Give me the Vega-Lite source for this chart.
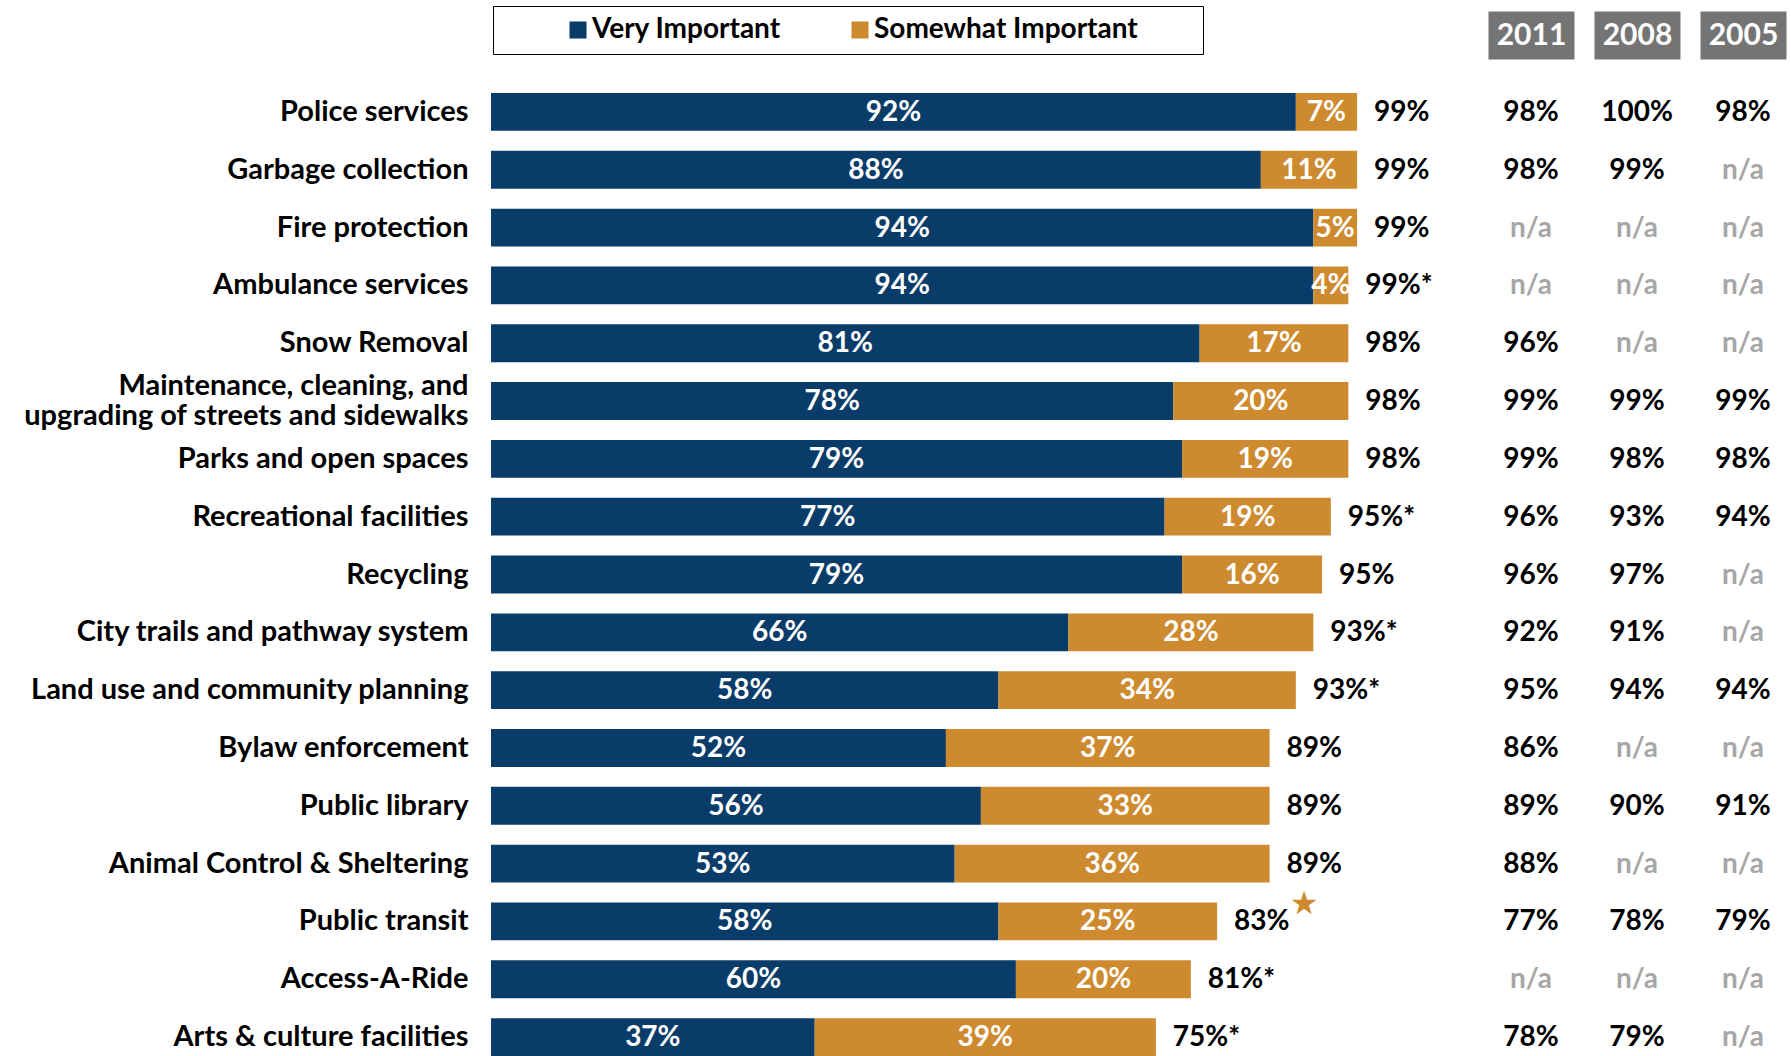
{
  "$schema": "https://vega.github.io/schema/vega-lite/v6.json",
  "autosize": {"type": "none"},
  "padding": {"left": 491, "top": 93, "right": 0, "bottom": 0},
  "width": 1300,
  "height": 963,
  "background": "white",
  "config": {
    "view": {"stroke": null},
    "font": "Lato",
    "text": {"font": "Lato", "fontWeight": "bold", "fontSize": 28}
  },
  "data": {
    "values": [
      {"cat": "Police services", "Very Important": 0.92, "Somewhat Important": 0.07, "total": "99%", "2011": 0.98, "2008": 1.00, "2005": 0.98, "star": false},
      {"cat": "Garbage collection", "Very Important": 0.88, "Somewhat Important": 0.11, "total": "99%", "2011": 0.98, "2008": 0.99, "2005": null, "star": false},
      {"cat": "Fire protection", "Very Important": 0.94, "Somewhat Important": 0.05, "total": "99%", "2011": null, "2008": null, "2005": null, "star": false},
      {"cat": "Ambulance services", "Very Important": 0.94, "Somewhat Important": 0.04, "total": "99%*", "2011": null, "2008": null, "2005": null, "star": false},
      {"cat": "Snow Removal", "Very Important": 0.81, "Somewhat Important": 0.17, "total": "98%", "2011": 0.96, "2008": null, "2005": null, "star": false},
      {"cat": "Maintenance, cleaning, and upgrading of streets and sidewalks", "Very Important": 0.78, "Somewhat Important": 0.20, "total": "98%", "2011": 0.99, "2008": 0.99, "2005": 0.99, "star": false},
      {"cat": "Parks and open spaces", "Very Important": 0.79, "Somewhat Important": 0.19, "total": "98%", "2011": 0.99, "2008": 0.98, "2005": 0.98, "star": false},
      {"cat": "Recreational facilities", "Very Important": 0.77, "Somewhat Important": 0.19, "total": "95%*", "2011": 0.96, "2008": 0.93, "2005": 0.94, "star": false},
      {"cat": "Recycling", "Very Important": 0.79, "Somewhat Important": 0.16, "total": "95%", "2011": 0.96, "2008": 0.97, "2005": null, "star": false},
      {"cat": "City trails and pathway system", "Very Important": 0.66, "Somewhat Important": 0.28, "total": "93%*", "2011": 0.92, "2008": 0.91, "2005": null, "star": false},
      {"cat": "Land use and community planning", "Very Important": 0.58, "Somewhat Important": 0.34, "total": "93%*", "2011": 0.95, "2008": 0.94, "2005": 0.94, "star": false},
      {"cat": "Bylaw enforcement", "Very Important": 0.52, "Somewhat Important": 0.37, "total": "89%", "2011": 0.86, "2008": null, "2005": null, "star": false},
      {"cat": "Public library", "Very Important": 0.56, "Somewhat Important": 0.33, "total": "89%", "2011": 0.89, "2008": 0.90, "2005": 0.91, "star": false},
      {"cat": "Animal Control & Sheltering", "Very Important": 0.53, "Somewhat Important": 0.36, "total": "89%", "2011": 0.88, "2008": null, "2005": null, "star": false},
      {"cat": "Public transit", "Very Important": 0.58, "Somewhat Important": 0.25, "total": "83%", "2011": 0.77, "2008": 0.78, "2005": 0.79, "star": true},
      {"cat": "Access-A-Ride", "Very Important": 0.60, "Somewhat Important": 0.20, "total": "81%*", "2011": null, "2008": null, "2005": null, "star": false},
      {"cat": "Arts & culture facilities", "Very Important": 0.37, "Somewhat Important": 0.39, "total": "75%*", "2011": 0.78, "2008": 0.79, "2005": null, "star": false}
    ]
  },
  "encoding": {
    "y": {
      "field": "cat",
      "type": "nominal",
      "sort": null,
      "scale": {
        "domain": ["Police services", "Garbage collection", "Fire protection", "Ambulance services", "Snow Removal", "Maintenance, cleaning, and upgrading of streets and sidewalks", "Parks and open spaces", "Recreational facilities", "Recycling", "City trails and pathway system", "Land use and community planning", "Bylaw enforcement", "Public library", "Animal Control & Sheltering", "Public transit", "Access-A-Ride", "Arts & culture facilities"],
        "paddingInner": 0.345,
        "paddingOuter": 0
      },
      "axis": {
        "title": null,
        "domain": false,
        "ticks": false,
        "labelFont": "Lato",
        "labelFontSize": 29,
        "labelFontWeight": "bold",
        "labelColor": "black",
        "labelPadding": 23,
        "labelLimit": 600,
        "labelLineHeight": 30,
        "labelOffset": {"condition": {"test": "datum.value == 'Maintenance, cleaning, and upgrading of streets and sidewalks'", "value": -15}, "value": 0},
        "labelExpr": "datum.value == 'Maintenance, cleaning, and upgrading of streets and sidewalks' ? ['Maintenance, cleaning, and', 'upgrading of streets and sidewalks'] : datum.value"
      }
    }
  },
  "layer": [
    {
      "transform": [{"fold": ["Very Important", "Somewhat Important"], "as": ["type", "share"]}],
      "mark": {"type": "bar"},
      "encoding": {
        "x": {"field": "share", "type": "quantitative", "stack": "zero", "scale": {"domain": [0, 1.486], "nice": false, "zero": true}, "axis": null},
        "color": {
          "field": "type",
          "type": "nominal",
          "scale": {"domain": ["Very Important", "Somewhat Important"], "range": ["#0A3C69", "#CD8A2F"]},
          "legend": {
            "title": ".",
            "titleOrient": "right",
            "titleColor": "white",
            "titleFontSize": 10,
            "titlePadding": 52,
            "orient": "none",
            "direction": "horizontal",
            "legendX": 2,
            "legendY": -87,
            "strokeColor": "black",
            "padding": 10,
            "symbolType": "square",
            "symbolSize": 290,
            "symbolOffset": 61,
            "labelOffset": 0,
            "columnPadding": 4,
            "labelFont": "Lato",
            "labelFontSize": 28,
            "labelFontWeight": "bold",
            "labelColor": "black",
            "labelLimit": 500
          }
        },
        "order": {"field": "type", "sort": "descending"}
      }
    },
    {
      "transform": [
        {"fold": ["Very Important", "Somewhat Important"], "as": ["type", "share"]},
        {"stack": "share", "groupby": ["cat"], "sort": [{"field": "type", "order": "descending"}], "as": ["s0", "s1"]},
        {"fold": ["s0", "s1"], "as": ["edge", "pos"]},
        {"aggregate": [{"op": "mean", "field": "pos", "as": "mid"}], "groupby": ["cat", "type", "share"]}
      ],
      "mark": {"type": "text", "color": "white", "align": "center", "baseline": "middle", "dy": 1},
      "encoding": {
        "x": {"field": "mid", "type": "quantitative", "scale": {"domain": [0, 1.486], "nice": false, "zero": true}, "axis": null},
        "text": {"field": "share", "type": "quantitative", "format": ".0%"}
      }
    },
    {
      "transform": [
        {"fold": ["Very Important", "Somewhat Important"], "as": ["type", "share"]},
        {"stack": "share", "groupby": ["cat"], "sort": [{"field": "type", "order": "descending"}], "as": ["s0", "s1"]},
        {"filter": "datum.type == 'Somewhat Important'"}
      ],
      "mark": {"type": "text", "color": "black", "align": "left", "baseline": "middle", "dx": 17, "dy": 1},
      "encoding": {
        "x": {"field": "s1", "type": "quantitative", "scale": {"domain": [0, 1.486], "nice": false, "zero": true}, "axis": null},
        "text": {"field": "total", "type": "nominal"}
      }
    },
    {
      "transform": [
        {"fold": ["Very Important", "Somewhat Important"], "as": ["type", "share"]},
        {"stack": "share", "groupby": ["cat"], "sort": [{"field": "type", "order": "descending"}], "as": ["s0", "s1"]},
        {"filter": "datum.type == 'Somewhat Important' && datum.star"}
      ],
      "mark": {"type": "text", "text": "★", "font": "DejaVu Sans", "fontSize": 32, "color": "#CD8A2F", "align": "center", "baseline": "middle", "dx": 87, "dy": -17},
      "encoding": {
        "x": {"field": "s1", "type": "quantitative", "scale": {"domain": [0, 1.486], "nice": false, "zero": true}, "axis": null}
      }
    },
    {
      "transform": [{"fold": ["2011", "2008", "2005"], "as": ["year", "hist"]}],
      "mark": {"type": "text", "align": "center", "baseline": "middle", "dy": 1},
      "encoding": {
        "x": {
          "field": "year",
          "type": "nominal",
          "sort": null,
          "scale": {"domain": ["2011", "2008", "2005"], "range": [987, 1305], "paddingInner": 0, "paddingOuter": 0},
          "axis": {
            "orient": "top",
            "title": null,
            "domain": false,
            "offset": 34,
            "ticks": true,
            "tickSize": 48,
            "tickWidth": 86,
            "tickColor": "#747474",
            "labelAngle": 0,
            "labelFont": "Lato",
            "labelFontSize": 30,
            "labelFontWeight": "bold",
            "labelColor": "white",
            "labelBaseline": "middle",
            "labelPadding": -24,
            "labelOverlap": false
          }
        },
        "text": {"condition": {"test": "datum.hist == null", "value": "n/a"}, "field": "hist", "type": "quantitative", "format": ".0%"},
        "color": {"condition": {"test": "datum.hist == null", "value": "#A6A6A6"}, "value": "black"}
      }
    }
  ],
  "resolve": {"scale": {"x": "independent"}, "axis": {"x": "independent"}}
}
